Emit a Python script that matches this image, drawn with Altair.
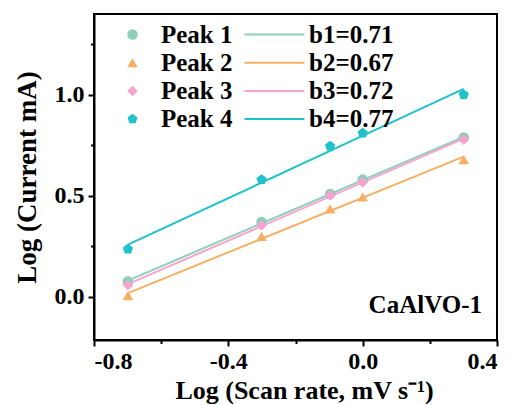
import altair as alt
import pandas as pd

# log10 of the scan rates 0.2, 0.5, 0.8, 1 and 2 mV/s
scan_log = [-0.699, -0.301, -0.097, 0.0, 0.301]

# log10 of the peak currents
peak1 = [0.075, 0.369, 0.508, 0.579, 0.788]
peak2 = [0.005, 0.298, 0.435, 0.494, 0.679]
peak3 = [0.057, 0.353, 0.501, 0.566, 0.778]
peak4 = [0.235, 0.579, 0.745, 0.810, 1.000]

peaks = ["Peak 1", "Peak 2", "Peak 3", "Peak 4"]
slopes = ["b1=0.71", "b2=0.67", "b3=0.72", "b4=0.77"]
colors = ["#8dd0b7", "#f5b066", "#f8a3cf", "#1fc2cb"]
pentagon = "M0,-1L0.951,-0.309L0.588,0.809L-0.588,0.809L-0.951,-0.309Z"
shapes = ["circle", "triangle-up", "diamond", pentagon]

rows = []
for name, b, ys in zip(peaks, slopes, [peak1, peak2, peak3, peak4]):
    for xv, yv in zip(scan_log, ys):
        rows.append({"peak": name, "fit": b, "x": xv, "y": yv})
df = pd.DataFrame(rows)

FONT = "Liberation Serif, Times New Roman, serif"

x_scale = alt.Scale(domain=[-0.8, 0.4], nice=False, zero=False)
y_scale = alt.Scale(domain=[-0.215, 1.4], nice=False, zero=False)

x_major = "abs(datum.value / 0.4 - round(datum.value / 0.4)) < 0.001"
y_major = "abs(datum.value * 2 - round(datum.value * 2)) < 0.001"
signed = "(datum.value < -0.0001 ? '-' : '') + format(abs(datum.value), '.1f')"

x_axis = alt.Axis(
    values=[-0.8, -0.6, -0.4, -0.2, 0.0, 0.2, 0.4],
    labelExpr=f"{x_major} ? {signed} : ''",
    tickSize={"condition": {"test": x_major, "value": 6}, "value": 3.5},
    title="Log (Scan rate, mV s⁻¹)",
    titleX=210,
    titleAlign="center",
    titlePadding=4,
    labelPadding=3,
)
y_axis = alt.Axis(
    values=[0.0, 0.25, 0.5, 0.75, 1.0, 1.25],
    labelExpr=f"{y_major} ? {signed} : ''",
    tickSize={"condition": {"test": y_major, "value": 6}, "value": 3.5},
    title="Log (Current mA)",
    titleFontSize=27,
    titlePadding=13,
    labelPadding=4,
)

base = alt.Chart(df)

fits = (
    base.transform_regression("x", "y", groupby=["peak", "fit"])
    .mark_line(strokeWidth=2)
    .encode(
        x=alt.X("x:Q", scale=x_scale, axis=x_axis),
        y=alt.Y("y:Q", scale=y_scale, axis=y_axis),
        stroke=alt.Stroke(
            "fit:N",
            scale=alt.Scale(domain=slopes, range=colors),
            legend=alt.Legend(
                title=None,
                orient="none",
                legendX=168,
                legendY=8,
                symbolType="M-3,0L3,0",
                symbolSize=400,
                symbolStrokeWidth=2,
                labelOffset=22,
                rowPadding=2.2,
            ),
        ),
    )
)

point_legend = alt.Legend(
    title=None,
    orient="none",
    legendX=26,
    legendY=8,
    symbolSize=110,
    symbolStrokeWidth=0,
    labelOffset=16,
    rowPadding=2.2,
)

points = base.mark_point(filled=True, size=115, opacity=1, strokeWidth=0).encode(
    x=alt.X("x:Q", scale=x_scale),
    y=alt.Y("y:Q", scale=y_scale),
    fill=alt.Fill("peak:N", scale=alt.Scale(domain=peaks, range=colors), legend=point_legend),
    shape=alt.Shape("peak:N", scale=alt.Scale(domain=peaks, range=shapes), legend=point_legend),
)

sample = (
    alt.Chart(pd.DataFrame({"label": ["CaAlVO-1"]}))
    .mark_text(font=FONT, fontSize=25, fontWeight="bold", align="right", baseline="middle", color="black")
    .encode(text="label:N", x=alt.value(388), y=alt.value(291))
)

chart = (
    alt.layer(fits, points, sample)
    .properties(
        width=403,
        height=326,
        autosize=alt.AutoSizeParams(type="none"),
        padding={"left": 94, "top": 14, "right": 18, "bottom": 65},
        background="white",
    )
    .configure_view(stroke="black", strokeWidth=2)
    .configure_axis(
        domainColor="black",
        domainWidth=2,
        tickColor="black",
        tickWidth=2,
        grid=False,
        labelFont=FONT,
        labelFontSize=24,
        labelFontWeight="bold",
        labelColor="black",
        titleFont=FONT,
        titleFontSize=26,
        titleFontWeight="bold",
        titleColor="black",
    )
    .configure_legend(
        labelFont=FONT,
        labelFontSize=25,
        labelFontWeight="bold",
        labelColor="black",
        padding=0,
    )
)

chart.save("out.html", embed_options={"renderer": "svg", "actions": False})
